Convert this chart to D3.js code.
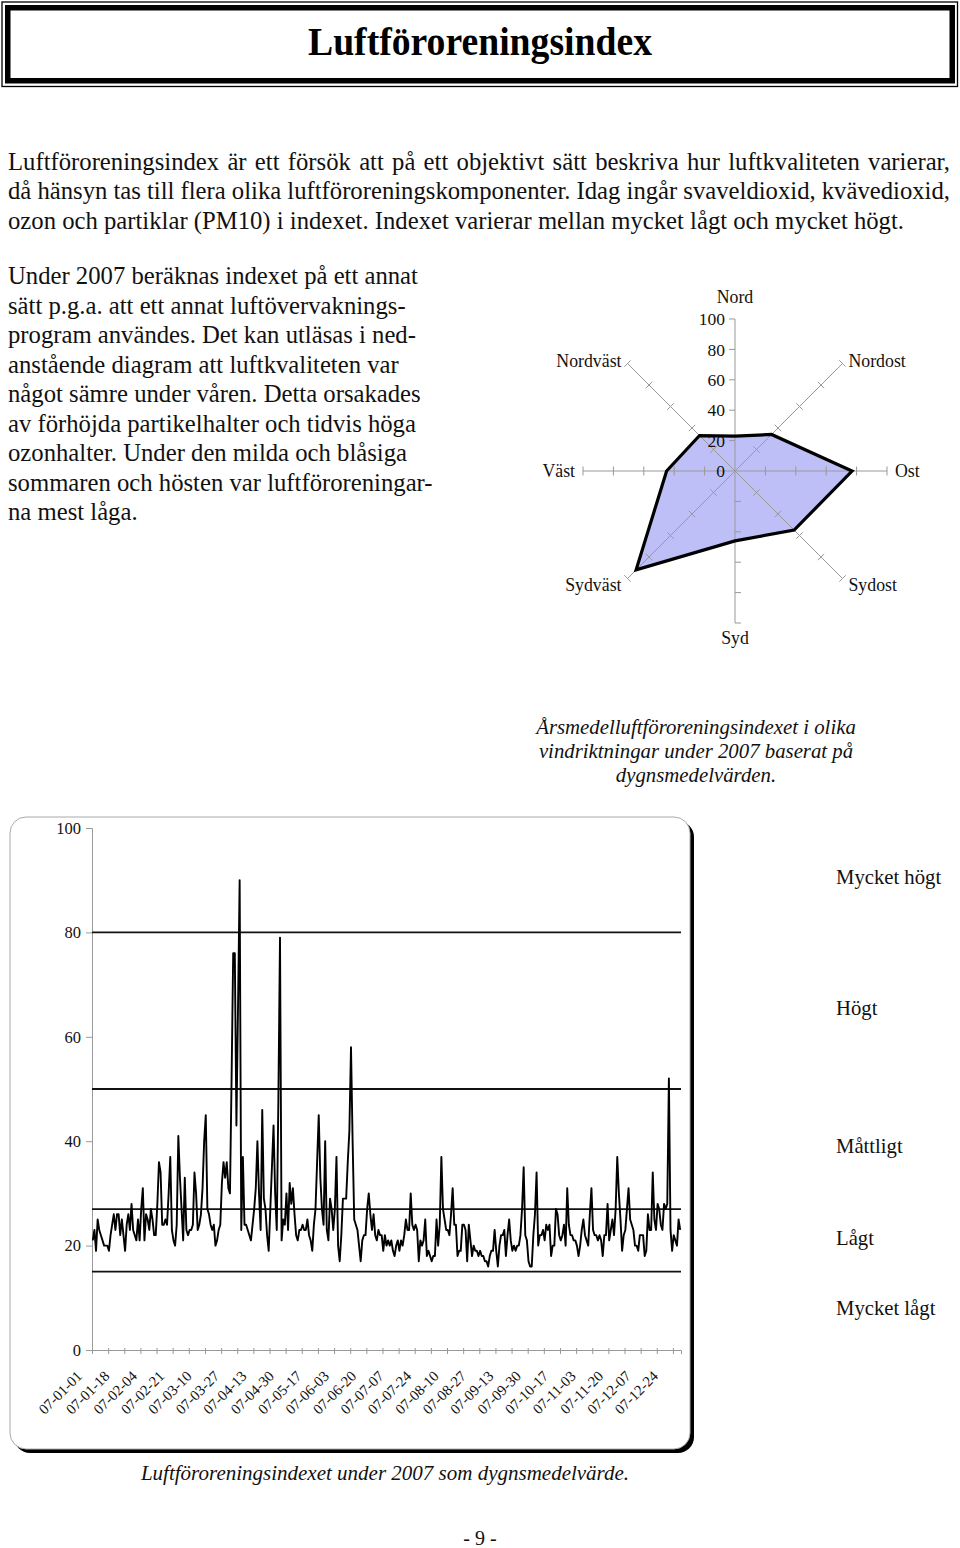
<!DOCTYPE html>
<html><head><meta charset="utf-8">
<script src="https://cdn.jsdelivr.net/npm/d3@7/dist/d3.min.js"></script>
<style>
body{margin:0;background:#fff}
svg{display:block}
text{font-family:"Liberation Serif","Times New Roman",serif;fill:#111}
</style>
</head><body>
<svg id="page" width="960" height="1548"></svg>
<script>
// ---------- data ----------
const titleText = "Luftföroreningsindex";
const introLines = [
 "Luftföroreningsindex är ett försök att på ett objektivt sätt beskriva hur luftkvaliteten varierar,",
 "då hänsyn tas till flera olika luftföroreningskomponenter. Idag ingår svaveldioxid, kvävedioxid,",
 "ozon och partiklar (PM10) i indexet. Indexet varierar mellan mycket lågt och mycket högt."
];
const storyLines = [
 "Under 2007 beräknas indexet på ett annat",
 "sätt p.g.a. att ett annat luftövervaknings-",
 "program användes. Det kan utläsas i ned-",
 "anstående diagram att luftkvaliteten var",
 "något sämre under våren. Detta orsakades",
 "av förhöjda partikelhalter och tidvis höga",
 "ozonhalter. Under den milda och blåsiga",
 "sommaren och hösten var luftföroreningar-",
 "na mest låga."
];
const directions = ["Nord","Nordost","Ost","Sydost","Syd","Sydväst","Väst","Nordväst"];
const directionValues = [23, 34, 77, 55, 46, 92, 45, 33];
const radarTicks = [0, 20, 40, 60, 80, 100];
const radarCaption = ["Årsmedelluftföroreningsindexet i olika","vindriktningar under 2007 baserat på","dygnsmedelvärden."];

const dailyIndex = [
 21,23,19,25,23,22,21,20,20,20,
 19,22,24,26,23,26,26,22,25,22,
 19,24,26,23,28,23,22,21,25,21,
 27,31,21,26,25,23,27,25,22,22,
 28,36,34,24,24,25,24,30,37,23,
 21,20,24,41,33,27,21,33,23,22,
 23,23,24,34,30,23,24,26,31,40,
 45,27,26,24,23,24,20,21,23,24,
 32,36,33,36,31,30,52,76,76,43,
 66,90,23,37,24,24,23,22,21,24,
 27,31,40,30,23,46,29,27,22,19,
 27,35,43,30,23,48,79,21,25,24,
 30,23,32,28,31,26,22,21,23,23,
 24,23,23,25,22,21,19,24,27,36,
 45,33,27,24,40,23,21,29,27,23,
 27,37,20,17,22,29,29,29,36,42,
 58,40,25,24,23,20,17,21,22,22,
 27,30,26,23,26,22,21,23,22,22,
 19,22,20,21,20,21,19,18,20,21,
 19,21,20,22,25,23,23,30,24,23,
 24,23,17,21,20,21,25,18,19,18,
 17,18,18,25,20,24,37,27,25,23,
 23,22,26,31,24,24,18,19,19,24,
 24,23,17,24,21,18,20,19,19,18,
 19,18,18,17,17,16,18,19,19,23,
 19,16,20,22,22,23,18,22,25,21,
 19,20,19,20,20,22,27,35,22,21,
 17,16,16,22,26,34,20,22,22,23,
 21,24,23,24,18,20,20,27,26,22,
 21,22,24,20,31,24,22,22,21,21,
 20,18,20,23,25,22,21,20,26,31,
 23,22,22,21,22,21,18,22,22,28,
 21,23,25,22,27,37,30,25,19,22,
 23,27,31,25,24,23,20,20,19,22,
 22,22,18,19,26,23,23,34,25,23,
 28,27,24,23,28,27,28,52,23,19,
 22,21,20,25,23
];
const levelBounds = [15, 27, 50, 80];
const levelNames = ["Mycket högt","Högt","Måttligt","Lågt","Mycket lågt"];
const yTicks = [0, 20, 40, 60, 80, 100];
const dateLabels = ["07-01-01","07-01-18","07-02-04","07-02-21","07-03-10","07-03-27","07-04-13","07-04-30","07-05-17","07-06-03","07-06-20","07-07-07","07-07-24","07-08-10","07-08-27","07-09-13","07-09-30","07-10-17","07-11-03","07-11-20","07-12-07","07-12-24"];
const labelStepDays = 17;
const minorTickDays = 10;
const chartCaption = "Luftföroreningsindexet under 2007 som dygnsmedelvärde.";
const pageNumber = "- 9 -";

// ---------- drawing ----------
const svg = d3.select("#page");

// Title box (thin outer line + thick inner band)
svg.append("rect").attr("x",2).attr("y",2).attr("width",955.5).attr("height",84.5)
  .attr("fill","none").attr("stroke","#000").attr("stroke-width",1.3);
svg.append("rect").attr("x",7.75).attr("y",7.75).attr("width",944.5).attr("height",73)
  .attr("fill","none").attr("stroke","#000").attr("stroke-width",5.5);
svg.append("text").attr("x",480).attr("y",55).attr("text-anchor","middle")
  .attr("textLength",344).attr("lengthAdjust","spacingAndGlyphs")
  .style("font-size","41px").style("font-weight","bold").style("fill","#000").text(titleText);

// Body text
const bodySize = 24.7;
const intro = svg.append("g").selectAll("text").data(introLines).join("text")
  .attr("x",8).attr("y",(d,i)=>170+i*29.3).style("font-size",bodySize+"px").text(d=>d);
// justify the first two lines to the full width
intro.each(function(d,i){
  if(i < introLines.length-1){
    const natural = this.getComputedTextLength();
    const spaces = (d.match(/ /g)||[]).length;
    const extra = (942 - natural)/spaces;
    d3.select(this).style("word-spacing", extra+"px");
  }
});
svg.append("g").selectAll("text").data(storyLines).join("text")
  .attr("x",8).attr("y",(d,i)=>284+i*29.5).style("font-size",bodySize+"px").text(d=>d);

// ---------- Radar ----------
const cx = 735, cy = 471, R = 152;
const rScale = d3.scaleLinear().domain([0,100]).range([0,R]);
const angle = d3.scaleLinear().domain([0,directions.length]).range([0,2*Math.PI]);
const pt = (i,v)=>[cx + rScale(v)*Math.sin(angle(i)), cy - rScale(v)*Math.cos(angle(i))];
const radar = svg.append("g");

radar.append("path")
  .attr("d", d3.line()(directionValues.map((v,i)=>pt(i,v))) + "Z")
  .attr("fill","#bfbff7").attr("stroke","none");

directions.forEach((name,i)=>{
  const [x2,y2] = pt(i,100);
  radar.append("line").attr("x1",cx).attr("y1",cy).attr("x2",x2).attr("y2",y2)
    .attr("stroke","#999").attr("stroke-width",1);
  const a = angle(i);
  const px = Math.cos(a), py = Math.sin(a);
  radarTicks.slice(1).forEach(t=>{
    const [x,y] = pt(i,t);
    const vertical = (i===0 || i===4);
    const h1 = vertical ? 6 : 4.5, h2 = vertical ? 0 : 4.5;
    radar.append("line").attr("x1",x-h1*px).attr("y1",y-h1*py).attr("x2",x+h2*px).attr("y2",y+h2*py)
      .attr("stroke","#999").attr("stroke-width",1);
  });
});

radar.append("g").selectAll("text").data(radarTicks).join("text")
  .attr("x",cx-10).attr("y",d=>cy-rScale(d)).attr("dy","0.35em")
  .attr("text-anchor","end").style("font-size","17.5px").text(d=>d);

radar.append("path")
  .attr("d", d3.line()(directionValues.map((v,i)=>pt(i,v))) + "Z")
  .attr("fill","none").attr("stroke","#000").attr("stroke-width",3.2).attr("stroke-linejoin","miter");

const labelPos = [
  {dx:0, dy:-22, anchor:"middle"},
  {dx:6, dy:-3, anchor:"start"},
  {dx:8, dy:0, anchor:"start"},
  {dx:6, dy:6, anchor:"start"},
  {dx:0, dy:15, anchor:"middle"},
  {dx:-6, dy:6, anchor:"end"},
  {dx:-8, dy:0, anchor:"end"},
  {dx:-6, dy:-3, anchor:"end"}
];
directions.forEach((name,i)=>{
  const [x,y] = pt(i,100);
  radar.append("text").attr("x",x+labelPos[i].dx).attr("y",y+labelPos[i].dy).attr("dy","0.35em")
    .attr("text-anchor",labelPos[i].anchor).style("font-size","17.8px").text(name);
});

svg.append("g").selectAll("text").data(radarCaption).join("text")
  .attr("x",696).attr("y",(d,i)=>734+i*24).attr("text-anchor","middle")
  .style("font-size","20.8px").style("font-style","italic").text(d=>d);

// ---------- Time series ----------
const fx = 10, fy = 817, fw = 680, fh = 632, fr = 16;
svg.append("rect").attr("x",fx+4).attr("y",fy+4).attr("width",fw).attr("height",fh)
  .attr("rx",fr).attr("fill","#000");
svg.append("rect").attr("x",fx).attr("y",fy).attr("width",fw).attr("height",fh)
  .attr("rx",fr).attr("fill","#fff").attr("stroke","#aaa").attr("stroke-width",1);

const x = d3.scaleLinear().domain([0,365]).range([92,681]);
const y = d3.scaleLinear().domain([0,100]).range([1350,828]);

const yAxis = d3.axisLeft(y).tickValues(yTicks).tickSize(6).tickPadding(5);
const ga = svg.append("g").attr("transform",`translate(${x(0)},0)`).call(yAxis);
ga.select(".domain").attr("stroke","#999");
ga.selectAll(".tick line").attr("stroke","#999");
ga.selectAll(".tick text").style("font-family","Liberation Serif, serif").style("font-size","16.5px").attr("fill","#111");

// x axis with minor ticks every 10 days
const xAxis = d3.axisBottom(x).tickValues(d3.range(0,365,minorTickDays)).tickSize(4).tickFormat("");
const gx = svg.append("g").attr("transform",`translate(0,${y(0)})`).call(xAxis);
gx.select(".domain").attr("stroke","#999");
gx.selectAll(".tick line").attr("stroke","#999").attr("y1",-2);

svg.append("g").selectAll("line").data(levelBounds).join("line")
  .attr("x1",x(0)).attr("x2",x(365)).attr("y1",d=>y(d)).attr("y2",d=>y(d))
  .attr("stroke","#111").attr("stroke-width",1.8);

svg.append("path").datum(dailyIndex)
  .attr("d", d3.line().x((d,i)=>x(i+0.5)).y(d=>y(d)))
  .attr("fill","none").attr("stroke","#000").attr("stroke-width",1.9).attr("stroke-linejoin","round");

svg.append("g").selectAll("text").data(dateLabels).join("text")
  .attr("transform",(d,i)=>`translate(${x(i*labelStepDays)-9},1377) rotate(-45)`)
  .attr("text-anchor","end").style("font-size","14.8px").text(d=>d);

const bandMids = [ (levelBounds[3]+100)/2, (levelBounds[2]+levelBounds[3])/2, (levelBounds[1]+levelBounds[2])/2, (levelBounds[0]+levelBounds[1])/2, levelBounds[0]/2 ];
svg.append("g").selectAll("text").data(levelNames).join("text")
  .attr("x",836).attr("y",(d,i)=>y(bandMids[i])-3).attr("dy","0.35em")
  .style("font-size","20.7px").text(d=>d);

svg.append("text").attr("x",385).attr("y",1480).attr("text-anchor","middle")
  .style("font-size","21px").style("font-style","italic").text(chartCaption);

svg.append("text").attr("x",480).attr("y",1545).attr("text-anchor","middle")
  .style("font-size","20px").text(pageNumber);
</script>
</body></html>
